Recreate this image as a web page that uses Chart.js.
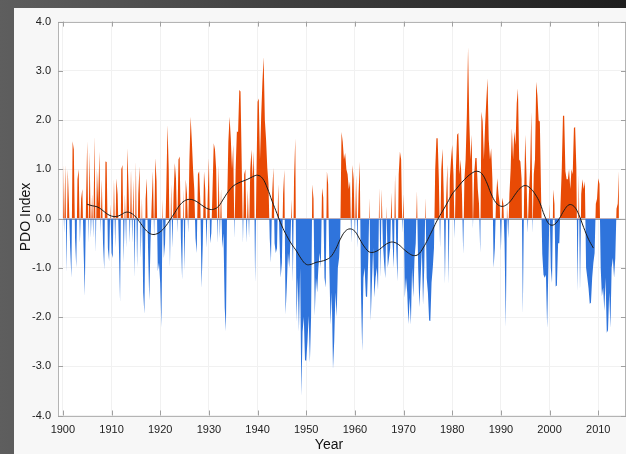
<!DOCTYPE html>
<html>
<head>
<meta charset="utf-8">
<script src="https://cdn.jsdelivr.net/npm/chart.js@4.4.1/dist/chart.umd.min.js"></script>
<style>
  html, body { margin:0; padding:0; }
  body { width:626px; height:454px; overflow:hidden; position:relative;
         background: linear-gradient(to right, #5e5e5e 0%, #404040 45%, #1e1e1e 100%); }
  #panel { position:absolute; left:14px; top:8px; width:612px; height:446px; background:#f7f7f7; }
  #c { position:absolute; left:0; top:0; }
</style>
</head>
<body>
<div id="panel"><canvas id="c" width="612" height="446"></canvas></div>
<script>
// ---- Data (4 samples per year) ----
const pdoStartYear = 1900;
const samplesPerYear = 4;
const pdo1900s = [
  1.3,-0.3,1.1,-1.1,   1.0,0.3,-0.6,-1.2,   1.57,1.4,-0.4,-1.0,   0.8,1.0,-0.5,0.4,   0.6,-0.6,-1.57,0.3,
  1.57,-0.5,1.36,-0.4, 0.5,-0.4,1.67,-0.7,  1.0,0.3,1.36,-0.3,    0.8,-0.5,-1.04,1.16, 1.15,-0.6,-0.86,0.3];
const pdo1910s = [
  -0.7,-0.8,0.8,-0.6,  0.82,0.49,-0.5,-1.71, 1.0,1.09,-0.9,0.5,   -0.6,1.43,0.6,-0.5,  1.0,-0.5,0.8,-1.2,
  1.16,-1.0,0.5,1.06,  -0.8,0.42,-1.5,-1.94, 0.4,0.82,-0.6,-1.67, -0.5,0.3,0.96,-0.4,  1.23,0.76,-1.07,-0.9];
const pdo1920s = [
  -1.31,-2.22,0.4,-0.8, -0.5,0.6,1.9,1.0,   -1.0,0.7,-0.6,0.5,     1.13,0.8,-0.3,1.2,   1.26,-0.4,-1.24,0.6,
  -1.06,0.8,0.5,-0.3,   1.2,2.07,1.57,1.0,  0.6,-0.4,-0.7,0.9,     0.96,0.3,-1.41,-0.5, 0.96,0.6,-0.6,0.4];
const pdo1930s = [
  1.23,-0.5,-0.3,0.6,  1.53,1.4,1.0,-0.5,   1.09,-0.4,0.6,-0.6,    -0.3,-1.81,-2.29,0.3, 1.56,2.07,1.63,1.0,
  1.5,-0.4,1.0,1.77,   1.76,2.61,2.58,1.1,  -0.5,0.9,1.0,-0.5,     0.6,-0.4,1.0,1.4,    0.8,1.36,-1.31,0.7];
const pdo1940s = [
  2.37,2.44,1.2,2.1,   2.78,3.28,2.0,1.6,   1.03,0.7,-0.4,-0.9,    0.5,1.03,-0.5,-0.7,  -0.6,0.7,-0.4,-1.2,
  -0.9,0.5,0.99,-1.95, -1.4,-0.7,-1.0,-0.5, 0.4,-1.3,0.82,1.63,    -2.1,-1.2,-2.29,-1.0, -3.6,-2.3,-2.0,-2.88];
const pdo1950s = [
  -2.89,-2.5,-1.98,-2.93, -2.0,0.69,0.4,-1.98, -1.2,-1.5,-1.0,-0.7, -1.0,0.62,0.43,-1.2, -1.4,0.96,0.7,-1.0,
  -2.15,-1.5,-3.06,-2.49, -1.5,-2.0,-1.0,-0.8, -0.3,1.76,1.56,1.2,  1.33,1.0,0.9,0.6,    0.76,-0.5,1.09,0.8];
const pdo1960s = [
  -0.4,0.89,-0.6,0.5,  1.16,-1.5,-2.69,-1.2, -1.0,-1.58,-1.6,-0.8, 0.42,-2.08,-1.3,-0.6, -1.6,-1.2,-1.0,-1.46,
  0.63,-1.2,0.6,-0.5,  -0.9,-1.21,0.25,-1.0, -0.8,-0.6,0.53,-0.5,  -1.0,0.9,-0.6,-1.28, 0.9,1.36,1.2,-0.3];
const pdo1970s = [
  0.5,-1.61,-1.2,-1.5, -2.14,-1.61,-2.15,-1.0, -1.6,-0.8,-0.5,0.56, -1.0,-1.8,-1.2,-0.6, -1.75,-1.0,0.43,-1.2,
  -1.5,-2.07,-2.08,-1.3, -1.0,-0.6,1.0,1.63, 1.63,0.8,-0.6,1.0,    1.42,0.5,-1.33,0.4,  1.1,-1.34,0.8,1.2];
const pdo1980s = [
  1.5,0.9,-0.4,1.0,    1.7,1.74,0.9,1.2,    0.5,-0.72,0.8,1.2,     2.1,3.48,2.0,1.2,    1.7,-0.2,0.9,1.23,
  1.23,0.6,0.3,-0.7,   2.17,1.97,1.2,1.9,   2.4,2.85,1.6,1.2,      1.43,0.8,-1.0,-0.6,  0.4,0.82,0.5,0.3];
const pdo1990s = [
  -0.66,0.42,0.3,-0.5, -2.2,0.3,-0.4,0.5,   1.0,1.84,1.2,1.77,     1.5,2.34,2.64,1.2,   1.16,0.8,-1.94,0.4,
  1.7,0.9,-0.3,0.5,    1.0,2.17,-0.3,0.9,   1.2,2.78,2.5,1.99,     1.97,0.5,-0.72,-1.14, -1.2,-1.14,-2.22,-1.0];
const pdo2000s = [
  0.3,-1.0,-1.31,0.59, 0.3,-1.38,-1.36,-0.5, -0.5,0.3,1.0,2.09,   2.09,0.96,0.8,0.8,   1.0,0.6,1.0,0.9,
  1.84,1.86,1.03,-1.48, 0.9,-1.46,0.5,0.8, 0.6,0.76,-1.0,-1.2,    -1.41,-1.73,-1.71,-1.2, -0.9,-0.7,0.3,0.4];
const pdo2010s = [
  0.82,0.7,-1.0,-1.58, -1.4,-1.88,-1.2,-2.32, -2.27,-1.5,-2.22,-1.0, -0.8,-1.2,-0.8,0.2, 0.3,0.96];

// smoothed curve, one value per year
const smoothStartYear = 1905;
const smoothValues = [
  0.29,0.26,0.24,0.18,0.10,
  0.05,0.04,0.08,0.13,0.11,  0.03,-0.10,-0.23,-0.31,-0.32,
  -0.27,-0.17,-0.03,0.12,0.27, 0.36,0.39,0.37,0.31,0.24,
  0.19,0.19,0.25,0.40,0.55,  0.66,0.72,0.76,0.80,0.85,
  0.88,0.82,0.62,0.35,0.10,  -0.15,-0.35,-0.52,-0.66,-0.82,
  -0.93,-0.93,-0.89,-0.87,-0.84, -0.78,-0.63,-0.42,-0.26,-0.21,
  -0.26,-0.42,-0.58,-0.68,-0.68, -0.63,-0.55,-0.49,-0.48,-0.53,
  -0.62,-0.70,-0.75,-0.73,-0.60, -0.42,-0.22,-0.02,0.15,0.32,
  0.50,0.62,0.74,0.84,0.92,  0.96,0.92,0.75,0.50,0.32,
  0.25,0.27,0.36,0.50,0.62,  0.67,0.62,0.50,0.32,0.05,
  -0.12,-0.12,0.00,0.17,0.28, 0.25,0.08,-0.18,-0.42,-0.60];

const xTicks = [1900,1910,1920,1930,1940,1950,1960,1970,1980,1990,2000,2010];
const yTicks = [-4,-3,-2,-1,0,1,2,3,4];

// ---- Build library data ----
const pdoValues = [].concat(pdo1900s,pdo1910s,pdo1920s,pdo1930s,pdo1940s,pdo1950s,
                            pdo1960s,pdo1970s,pdo1980s,pdo1990s,pdo2000s,pdo2010s);
const pdoPoints = pdoValues.map((v,i)=>({x: pdoStartYear + i/samplesPerYear, y: v}));
const smoothPoints = smoothValues.map((v,i)=>({x: smoothStartYear + i, y: v}));

const FONT = '"Liberation Sans", Arial, sans-serif';

const decor = {
  id: 'decor',
  beforeDraw(chart){
    const {ctx, chartArea:a} = chart;
    ctx.save();
    ctx.fillStyle = '#ffffff';
    ctx.fillRect(a.left, a.top, a.right-a.left, a.bottom-a.top);
    ctx.restore();
  },
  beforeDatasetsDraw(chart){
    const {ctx, chartArea:a, scales:{y}} = chart;
    const y0 = Math.round(y.getPixelForValue(0)) + 0.5;
    ctx.save();
    ctx.strokeStyle = '#9a9a9a'; ctx.lineWidth = 1;
    ctx.beginPath(); ctx.moveTo(a.left, y0); ctx.lineTo(a.right, y0); ctx.stroke();
    ctx.restore();
  },
  afterDraw(chart){
    const {ctx, chartArea:a, scales:{x,y}} = chart;
    ctx.save();
    ctx.strokeStyle = '#b4b4b4'; ctx.lineWidth = 1;
    ctx.strokeRect(Math.round(a.left)+0.5, Math.round(a.top)+0.5,
                   Math.round(a.right-a.left)-1, Math.round(a.bottom-a.top));
    ctx.strokeStyle = '#a0a0a0';
    ctx.beginPath();
    xTicks.forEach(v=>{
      const px = Math.round(x.getPixelForValue(v))+0.5;
      ctx.moveTo(px, a.bottom); ctx.lineTo(px, a.bottom-5);
      ctx.moveTo(px, a.top); ctx.lineTo(px, a.top+5);
    });
    yTicks.forEach(v=>{
      const py = Math.round(y.getPixelForValue(v))+0.5;
      ctx.moveTo(a.left, py); ctx.lineTo(a.left+5, py);
      ctx.moveTo(a.right, py); ctx.lineTo(a.right-5, py);
    });
    ctx.stroke();
    // axis titles
    ctx.fillStyle = '#111';
    ctx.font = '14px ' + FONT;
    ctx.textAlign = 'center'; ctx.textBaseline = 'middle';
    ctx.fillText('Year', 315, 437);
    ctx.translate(12, 209);
    ctx.rotate(-Math.PI/2);
    ctx.fillText('PDO Index', 0, 0);
    ctx.restore();
  }
};

new Chart(document.getElementById('c'), {
  type: 'line',
  data: {
    datasets: [
      {
        data: pdoPoints,
        borderWidth: 0,
        borderColor: 'rgba(0,0,0,0)',
        pointRadius: 0,
        tension: 0,
        fill: { target: 'origin', above: '#e84a05', below: '#2f74dc' },
        order: 2
      },
      {
        data: smoothPoints,
        borderColor: '#1a1a1a',
        borderWidth: 1,
        pointRadius: 0,
        tension: 0.4,
        fill: false,
        order: 1
      }
    ]
  },
  options: {
    responsive: false,
    animation: false,
    devicePixelRatio: 1,
    layout: { padding: { top: 11.5, right: 0, left: 0, bottom: 0 } },
    plugins: { legend: { display: false }, tooltip: { enabled: false } },
    scales: {
      x: {
        type: 'linear',
        min: 1899, max: 2015.7,
        afterBuildTicks: s => { s.ticks = xTicks.map(v=>({value:v})); },
        afterFit: s => { s.height = 38.5; },
        grid: { color: '#f1f1f1', drawTicks: false },
        border: { display: false },
        ticks: { padding: 8, color: '#222', font: { size: 11, family: FONT },
                 maxRotation: 0, autoSkip: false, callback: v => String(v) }
      },
      y: {
        min: -4, max: 4,
        afterBuildTicks: s => { s.ticks = yTicks.map(v=>({value:v})); },
        afterFit: s => { s.width = 44; },
        grid: { color: '#f1f1f1', drawTicks: false },
        border: { display: false },
        ticks: { padding: 7, color: '#222', font: { size: 11, family: FONT },
                 callback: v => Number(v).toFixed(1) }
      }
    }
  },
  plugins: [decor]
});
</script>
</body>
</html>
